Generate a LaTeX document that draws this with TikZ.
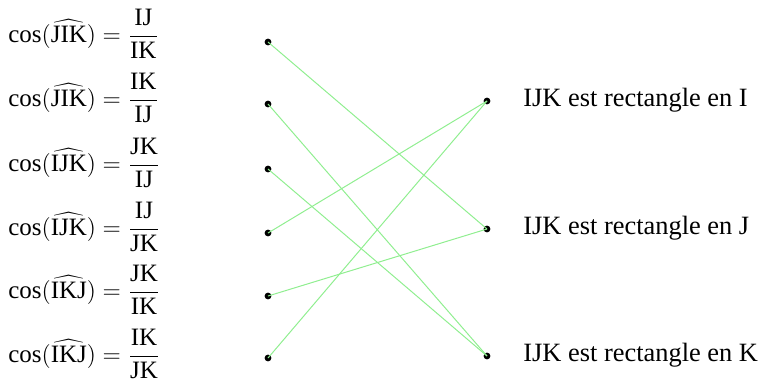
\documentclass[tikz,border=0pt]{standalone}
\usepackage{fontspec}
\setmainfont{Liberation Serif}
\definecolor{lgreen}{RGB}{144,238,144}
\begin{document}
\fontsize{13}{15}\selectfont
\begin{tikzpicture}[x=0.5pt,y=-0.5pt,
  dot/.style={circle,fill=black,inner sep=0pt,minimum size=3.4pt},
  link/.style={draw=lgreen,line width=0.5pt},
  formula/.style={anchor=base west,inner sep=0pt,font=\fontsize{12.5}{14}\selectfont},
  answer/.style={anchor=base west,inner sep=0pt,font=\fontsize{13.2}{15}\selectfont}]
\useasboundingbox (0,0) rectangle (758,381);
% left dots
\node[dot] (l1) at (268,42) {};
\node[dot] (l2) at (268,104) {};
\node[dot] (l3) at (268,169) {};
\node[dot] (l4) at (268,233) {};
\node[dot] (l5) at (268,296) {};
\node[dot] (l6) at (268,358) {};
% right dots
\node[dot] (rI) at (487,101) {};
\node[dot] (rJ) at (487,229) {};
\node[dot] (rK) at (487,356) {};
% formulas
\node[formula] (f1) at (8,42) {$\displaystyle\cos(\widehat{\mathrm{JIK}})=\frac{\mathrm{IJ}}{\mathrm{IK}}$};
\node[formula] (f2) at (8,106) {$\displaystyle\cos(\widehat{\mathrm{JIK}})=\frac{\mathrm{IK}}{\mathrm{IJ}}$};
\node[formula] (f3) at (8,171) {$\displaystyle\cos(\widehat{\mathrm{IJK}})=\frac{\mathrm{JK}}{\mathrm{IJ}}$};
\node[formula] (f4) at (8,235) {$\displaystyle\cos(\widehat{\mathrm{IJK}})=\frac{\mathrm{IJ}}{\mathrm{JK}}$};
\node[formula] (f5) at (8,298) {$\displaystyle\cos(\widehat{\mathrm{IKJ}})=\frac{\mathrm{JK}}{\mathrm{IK}}$};
\node[formula] (f6) at (8,362) {$\displaystyle\cos(\widehat{\mathrm{IKJ}})=\frac{\mathrm{IK}}{\mathrm{JK}}$};
% answers
\node[answer] (aI) at (523,106) {IJK est rectangle en I};
\node[answer] (aJ) at (523,234) {IJK est rectangle en J};
\node[answer] (aK) at (523,361) {IJK est rectangle en K};
% links
\draw[link] (l1.center) -- (rJ.center);
\draw[link] (l2.center) -- (rK.center);
\draw[link] (l3.center) -- (rK.center);
\draw[link] (l4.center) -- (rI.center);
\draw[link] (l5.center) -- (rJ.center);
\draw[link] (l6.center) -- (rI.center);
\end{tikzpicture}
\end{document}
